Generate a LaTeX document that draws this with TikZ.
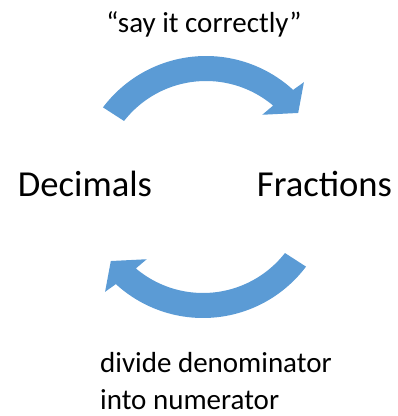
\documentclass[tikz,border=0pt]{standalone}
\usepackage{fontspec}
\setmainfont{Carlito}
\definecolor{arrowblue}{RGB}{91,155,213}
\begin{document}
\begin{tikzpicture}[x=1pt, y=1pt,
  word/.style={inner sep=0pt, anchor=base, font=\fontsize{36.6}{40}\selectfont},
  note/.style={inner sep=0pt, font=\fontsize{29}{36}\selectfont},
  band/.style={fill=arrowblue, draw=none}]
\useasboundingbox (0,0) rectangle (398,416);
\def\Ro{129}
\def\Ri{104}
% the two words
\node[word] (dec) at (85,219) {Decimals};
\node[word] (frac) at (324.5,219) {Fractions};
% labels
\node[note, anchor=base] (say) at (204,383) {“say it correctly”};
\node[note, anchor=base west] (div) at (100,44) {divide denominator};
\node[note, anchor=base west] (into) at (100,6) {into numerator};
% top arrow, decimals to fractions
\begin{scope}[shift={(206,231)}]
\fill[band] (143:\Ro) arc[start angle=143, end angle=47.5, radius=\Ro]
  -- (46.4:142) -- (38:117) -- (51.3:90) -- (49.8:\Ri)
  arc[start angle=49.8, end angle=142, radius=\Ri] -- cycle;
\end{scope}
% bottom arrow, fractions to decimals
\begin{scope}[shift={(203,227)}, rotate=180]
\fill[band] (143:\Ro) arc[start angle=143, end angle=47.5, radius=\Ro]
  -- (46.4:142) -- (38:117) -- (51.3:90) -- (49.8:\Ri)
  arc[start angle=49.8, end angle=142, radius=\Ri] -- cycle;
\end{scope}
\end{tikzpicture}
\end{document}
